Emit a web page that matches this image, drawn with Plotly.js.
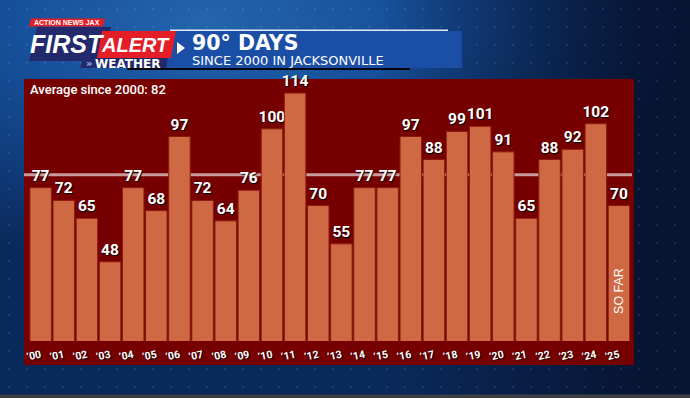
<!DOCTYPE html>
<html>
<head>
<meta charset="utf-8">
<script src="https://cdn.plot.ly/plotly-3.0.1.min.js"></script>
<style>
  html, body { margin:0; padding:0; width:690px; height:398px; overflow:hidden; }
  body {
    background:
      linear-gradient(to bottom, rgba(0,0,0,0) 394px, #3c3f44 395px, #3c3f44 398px),
      radial-gradient(circle, rgba(160,200,255,0.13) 0.7px, rgba(0,0,0,0) 1.3px) 0 0 / 18px 18px,
      linear-gradient(to right, rgba(0,0,0,0) 55%, rgba(6,14,38,0.75) 92%),
      radial-gradient(ellipse 70% 60% at 30% 5%, #2465ad 0%, #17509a 40%, #0f3a78 75%, #0b2a5c 100%);
  }
  #chart { width:690px; height:398px; }
</style>
</head>
<body>
<div id="chart"></div>
<script>
// ---- data ----
const years = ['’00','’01','’02','’03','’04','’05','’06','’07','’08','’09','’10','’11','’12',
               '’13','’14','’15','’16','’17','’18','’19','’20','’21','’22','’23','’24','’25'];
const days = [77,72,65,48,77,68,97,72,64,76,100,114,70,55,77,77,97,88,99,101,91,65,88,92,102,70];
const averageValue = 82;
const averageLabel = 'Average since 2000: ' + averageValue;
const partialNote = 'SO FAR';
const headerTitle = '90° DAYS';
const headerSubtitle = 'SINCE 2000 IN JACKSONVILLE';

// ---- layout helpers (pixel -> paper) ----
const L = 24, R = 634, T = 79, B = 341;
const W = R - L, H = B - T;
const X = px => (px - L) / W;
const Y = py => (B - py) / H;
const P = pts => 'M ' + pts.map(p => X(p[0]).toFixed(5) + ' ' + Y(p[1]).toFixed(5)).join(' L ') + ' Z';

const shadow = '1px 1px 1px #000';

const trace = {
  type: 'bar',
  x: years,
  y: days,
  text: days.map(String),
  textposition: 'outside',
  constraintext: 'none',
  cliponaxis: false,
  textfont: { family: 'Roboto, Liberation Sans, sans-serif', size: 15.5, color: '#ffffff', weight: 'bold', shadow: shadow },
  marker: { color: '#cf6943', line: { color: '#8c1a0d', width: 1 } },
  hoverinfo: 'none'
};

const shapes = [
  // dark red panel
  { type: 'rect', xref: 'paper', yref: 'paper', x0: X(24), x1: X(634), y0: Y(365), y1: Y(79),
    fillcolor: '#760000', line: { width: 0 }, layer: 'below' },
  // average line
  { type: 'line', xref: 'paper', yref: 'y', x0: X(24), x1: X(632), y0: averageValue, y1: averageValue,
    line: { color: '#c99b9b', width: 3 }, layer: 'below' },
  // header banner
  { type: 'rect', xref: 'paper', yref: 'paper', x0: X(165), x1: X(462), y0: Y(68), y1: Y(31),
    fillcolor: '#1b4fa6', line: { width: 0 } },
  { type: 'rect', xref: 'paper', yref: 'paper', x0: X(170), x1: X(448), y0: Y(31), y1: Y(29.5),
    fillcolor: '#e2eaf6', line: { width: 0 } },
  { type: 'rect', xref: 'paper', yref: 'paper', x0: X(127), x1: X(410), y0: Y(70), y1: Y(68),
    fillcolor: '#04060c', line: { width: 0 } },
  // navy logo block
  { type: 'path', xref: 'paper', yref: 'paper', fillcolor: '#222a6c', line: { width: 0 },
    path: P([[37,27],[111,27],[107,58],[168,58],[166,68],[80,68],[82,61],[29,61]]) },
  // red ALERT block
  { type: 'path', xref: 'paper', yref: 'paper', fillcolor: '#e41e26', line: { width: 0 },
    path: P([[102,31],[176,31],[171,58],[97,58]]) },
  // red ACTION NEWS JAX tab
  { type: 'path', xref: 'paper', yref: 'paper', fillcolor: '#e41e26', line: { width: 0 },
    path: P([[31,18.5],[105,18.5],[103,26.5],[29,26.5]]) },
  // white arrow
  { type: 'path', xref: 'paper', yref: 'paper', fillcolor: '#ffffff', line: { width: 0 },
    path: P([[177,42],[185,48],[177,54]]) }
];

const ann = (text, x, y, opts) => Object.assign({
  text: text, xref: 'paper', yref: 'paper', x: X(x), y: Y(y), showarrow: false,
  xanchor: 'left', yanchor: 'middle'
}, opts);

const annotations = [
  ann('ACTION NEWS JAX', 67, 22.3, { xanchor: 'center',
    font: { family: 'Liberation Sans, Arial, sans-serif', size: 7, color: '#fff', weight: 'bold' } }),
  ann('FIRST', 67, 43.5, { xanchor: 'center',
    font: { family: 'Liberation Sans, sans-serif', size: 25, color: '#fff', weight: 'bold', style: 'italic' } }),
  ann('ALERT', 135, 45, { xanchor: 'center',
    font: { family: 'Liberation Sans, sans-serif', size: 20, color: '#fff', weight: 'bold', style: 'italic' } }),
  ann('»', 84, 63.5, { font: { family: 'DejaVu Sans, sans-serif', size: 10, color: '#9fb4e8', weight: 'bold' } }),
  ann('WEATHER', 93, 63.5, { font: { family: 'DejaVu Sans, sans-serif', size: 12, color: '#fff', weight: 'bold' } }),
  ann(headerTitle, 190, 43, { font: { family: 'DejaVu Sans, sans-serif', size: 20.5, color: '#fff', weight: 'bold' } }),
  ann(headerSubtitle, 190, 60, { font: { family: 'DejaVu Sans, sans-serif', size: 13, color: '#fff' } }),
  ann(averageLabel, 28, 89.5, { font: { family: 'Roboto, sans-serif', size: 13, color: '#fff', weight: 500 } }),
  { text: partialNote, xref: 'x', x: years[years.length - 1], yref: 'paper', y: Y(291), showarrow: false,
    textangle: -90, xanchor: 'center', yanchor: 'middle',
    font: { family: 'Liberation Sans, Arial, sans-serif', size: 12.5, color: '#fff' } }
];

const layout = {
  width: 690, height: 398,
  margin: { l: L, r: 690 - R, t: T, b: 398 - B, pad: 0 },
  paper_bgcolor: 'rgba(0,0,0,0)',
  plot_bgcolor: 'rgba(0,0,0,0)',
  showlegend: false,
  bargap: 0.07,
  xaxis: {
    type: 'category', range: [-0.72, 25.65], showgrid: false, zeroline: false, showline: false,
    ticks: '', tickangle: -12, fixedrange: true, ticklabelstandoff: 5,
    tickfont: { family: 'Roboto, sans-serif', size: 10.5, color: '#fff', weight: 'bold', shadow: shadow }
  },
  yaxis: {
    range: [17, 119.5], showgrid: false, zeroline: false, showline: false, showticklabels: false,
    ticks: '', fixedrange: true
  },
  shapes: shapes,
  annotations: annotations
};

Plotly.newPlot('chart', [trace], layout, { staticPlot: true, displayModeBar: false });
</script>
</body>
</html>
